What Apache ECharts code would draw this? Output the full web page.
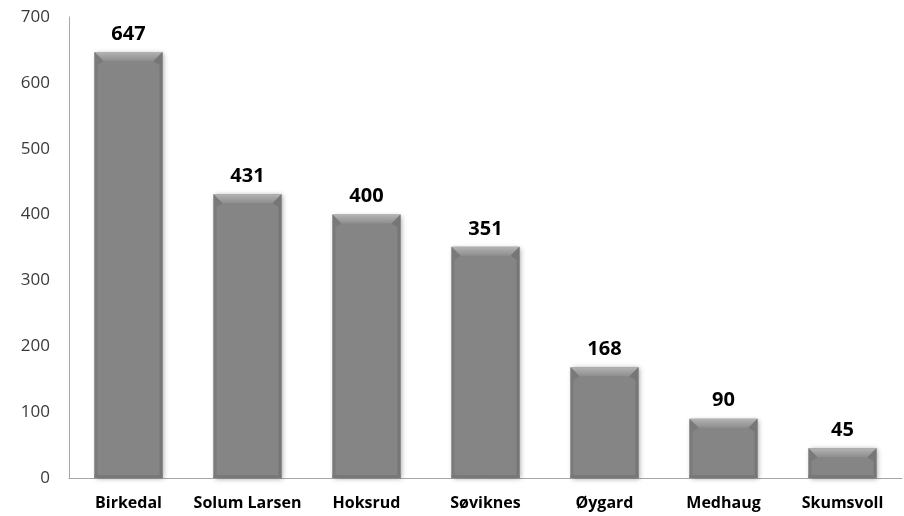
<!DOCTYPE html>
<html><head><meta charset="utf-8">
<script src="https://cdn.jsdelivr.net/npm/echarts@6/dist/echarts.min.js"></script>
<style>html,body{margin:0;padding:0;background:#fff}#c{width:904px;height:516px}</style>
</head><body><div id="c"></div>
<script>
const categories = ['Birkedal','Solum Larsen','Hoksrud','Søviknes','Øygard','Medhaug','Skumsvoll'];
const values = [647, 431, 400, 351, 168, 90, 45];
const yTicks = [0,100,200,300,400,500,600,700];

const BW = 68;
const chart = echarts.init(document.getElementById('c'));
chart.setOption({
  animation:false,
  backgroundColor:'#fff',
  grid:{left:69,right:2,top:17,bottom:38},
  xAxis:{type:'category',data:categories,
    axisLine:{lineStyle:{color:'#a6a6a6',width:1}},
    axisTick:{show:false},
    axisLabel:{interval:0,color:'#000',fontWeight:'bold',fontSize:16,fontFamily:'Open Sans',margin:17}},
  yAxis:{type:'value',min:0,max:700,interval:100,
    axisLine:{show:true,lineStyle:{color:'#a6a6a6',width:1}},
    axisTick:{show:false},splitLine:{show:false},
    axisLabel:{color:'#3a3a3a',fontSize:17,fontFamily:'Open Sans',margin:19,
      formatter:v=>yTicks.includes(v)?String(v):''}},
  series:[{type:'bar',data:values,barWidth:BW,
    itemStyle:{color:'#858585',
      shadowColor:'rgba(0,0,0,0.35)',shadowBlur:5,shadowOffsetX:1,shadowOffsetY:1},
    label:{show:true,position:'top',distance:8,color:'#000',fontWeight:'bold',fontSize:20,fontFamily:'Open Sans'}
  },{
    type:'custom',z:3,silent:true,
    data:values.map((v,i)=>[i,v]),
    renderItem:function(params,api){
      const top = api.coord([api.value(0),api.value(1)]);
      const base = api.coord([api.value(0),0]);
      const x0 = top[0]-BW/2, x1 = top[0]+BW/2, y0 = top[1], y1 = base[1];
      const b = Math.min(9,(y1-y0)/3), s = 3;
      return {type:'group',children:[
        {type:'polygon',shape:{points:[[x0,y0],[x1,y0],[x1-b,y0+b],[x0+b,y0+b]]},
          style:{fill:new echarts.graphic.LinearGradient(0,0,0,1,[{offset:0,color:'#b4b4b4'},{offset:0.5,color:'#a0a0a0'},{offset:1,color:'#8e8e8e'}])}},
        {type:'polygon',shape:{points:[[x0,y0],[x0+b,y0+b],[x0+s,y0+b+4],[x0+s,y1],[x0,y1]]},
          style:{fill:'#7a7a7a'}},
        {type:'polygon',shape:{points:[[x1,y0],[x1-b,y0+b],[x1-s,y0+b+4],[x1-s,y1],[x1,y1]]},
          style:{fill:'#767676'}},
        {type:'rect',shape:{x:x0,y:y1-3,width:BW,height:3},style:{fill:'#787878'}}
      ]};
    }
  }]
});
</script></body></html>
